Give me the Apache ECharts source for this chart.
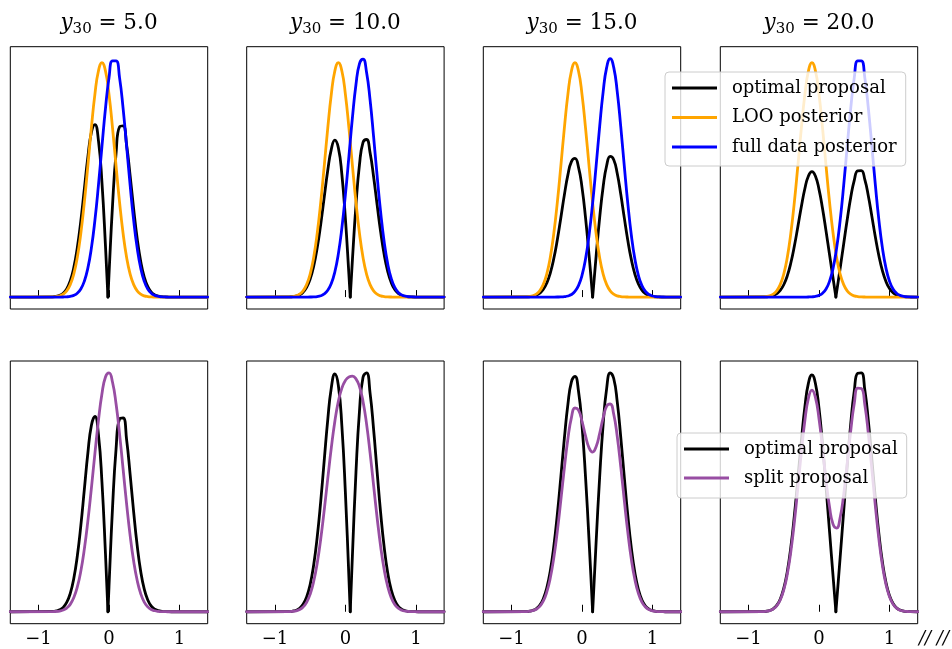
<!DOCTYPE html>
<html>
<head>
<meta charset="utf-8">
<script src="https://cdn.jsdelivr.net/npm/echarts@6/dist/echarts.min.js"></script>
<style>
html, body { margin: 0; padding: 0; background: #ffffff; }
#chart { width: 952px; height: 649px; }
</style>
</head>
<body>
<div id="chart"></div>
<script>
// ---------------- data ----------------
const y30Values = [5.0, 10.0, 15.0, 20.0];
const xTicks = [-1, 0, 1];

const xGrid = [-1.4, -0.8, -0.75, -0.7, -0.65, -0.6, -0.55, -0.5, -0.45, -0.4, -0.35, -0.3, -0.25, -0.2, -0.15, -0.1, -0.05, 0, 0.05, 0.1, 0.15, 0.2, 0.25, 0.3, 0.35, 0.4, 0.45, 0.5, 0.55, 0.6, 0.65, 0.7, 0.75, 0.8, 0.85, 0.9, 0.95, 1.0, 1.05, 1.1, 1.15, 1.2, 1.25, 1.3, 1.4];

// LOO posterior (same in all four panels)
const looPosterior = [0, 0.0018, 0.0047, 0.0116, 0.0268, 0.0573, 0.114, 0.2111, 0.3636, 0.5825, 0.8679, 1.2027, 1.5501, 1.8581, 2.0715, 2.148, 2.0715, 1.8581, 1.5501, 1.2027, 0.8679, 0.5825, 0.3636, 0.2111, 0.114, 0.0573, 0.0268, 0.0116, 0.0047, 0.0018, 0.0006, 0, 0, 0, 0, 0, 0, 0, 0, 0, 0, 0, 0, 0, 0];

// full data posterior, one per panel
const fullPosterior5 = [0, 0, 0.0001, 0.0003, 0.0008, 0.0024, 0.0062, 0.0154, 0.035, 0.0742, 0.1456, 0.2652, 0.4483, 0.703, 1.0227, 1.3804, 1.7286, 2.0083, 2.1646, 2.1646, 2.0083, 1.7286, 1.3804, 1.0227, 0.703, 0.4483, 0.2652, 0.1456, 0.0742, 0.035, 0.0154, 0.0062, 0.0024, 0.0008, 0.0003, 0.0001, 0, 0, 0, 0, 0, 0, 0, 0, 0];
const fullPosterior10 = [0, 0, 0, 0, 0, 0.0001, 0.0002, 0.0006, 0.0018, 0.0049, 0.0123, 0.0287, 0.0619, 0.1239, 0.2299, 0.3959, 0.6326, 0.9378, 1.2897, 1.6457, 1.948, 2.1394, 2.1799, 2.0607, 1.8073, 1.4705, 1.1101, 0.7775, 0.5052, 0.3045, 0.1703, 0.0884, 0.0425, 0.019, 0.0079, 0.003, 0.0011, 0.0004, 0.0001, 0, 0, 0, 0, 0, 0];
const fullPosterior15 = [0, 0, 0, 0, 0, 0, 0, 0, 0, 0.0001, 0.0005, 0.0014, 0.0039, 0.0099, 0.0234, 0.0514, 0.1049, 0.1983, 0.3481, 0.5667, 0.8559, 1.1994, 1.5593, 1.8807, 2.1046, 2.185, 2.1046, 1.8807, 1.5593, 1.1994, 0.8559, 0.5667, 0.3481, 0.1983, 0.1049, 0.0514, 0.0234, 0.0099, 0.0039, 0.0014, 0.0005, 0.0001, 0, 0, 0];
const fullPosterior20 = [0, 0, 0, 0, 0, 0, 0, 0, 0, 0, 0, 0, 0.0001, 0.0003, 0.0008, 0.0024, 0.0062, 0.0154, 0.035, 0.0742, 0.1456, 0.2652, 0.4483, 0.703, 1.0227, 1.3804, 1.7286, 2.0083, 2.1646, 2.1646, 2.0083, 1.7286, 1.3804, 1.0227, 0.703, 0.4483, 0.2652, 0.1456, 0.0742, 0.035, 0.0154, 0.0062, 0.0024, 0.0008, 0];

// optimal proposal, one per panel
const optimal5 = [0, 0.0025, 0.0063, 0.0155, 0.0356, 0.0751, 0.1475, 0.2678, 0.4497, 0.6956, 0.9885, 1.283, 1.5079, 1.5808, 1.4353, 1.0505, 0.4693, 0.2056, 0.841, 1.3164, 1.5607, 1.5685, 1.3915, 1.1107, 0.8061, 0.5351, 0.3263, 0.1834, 0.0951, 0.0454, 0.0203, 0.0085, 0.0033, 0.0011, 0.0004, 0.0001, 0, 0, 0, 0, 0, 0, 0, 0, 0];
const optimal10 = [0, 0.0014, 0.0037, 0.0091, 0.0209, 0.0447, 0.0888, 0.1643, 0.2824, 0.4509, 0.6679, 0.9164, 1.1617, 1.3537, 1.4375, 1.3677, 1.1232, 0.7184, 0.2033, 0.3458, 0.8431, 1.2153, 1.4178, 1.4438, 1.3218, 1.1031, 0.8456, 0.5978, 0.3907, 0.2363, 0.1325, 0.069, 0.0332, 0.0148, 0.0062, 0.0023, 0.0009, 0.0003, 0.0001, 0, 0, 0, 0, 0, 0];
const optimal15 = [0, 0.0011, 0.0028, 0.007, 0.0162, 0.0347, 0.0691, 0.1279, 0.2202, 0.3528, 0.5254, 0.7277, 0.9367, 1.1196, 1.2407, 1.2701, 1.1913, 1.0055, 0.7281, 0.3853, 0.0073, 0.3737, 0.7243, 1.0114, 1.2059, 1.2889, 1.2587, 1.1323, 0.9417, 0.7255, 0.5181, 0.3433, 0.2109, 0.1201, 0.0635, 0.0311, 0.0142, 0.006, 0.0024, 0.0008, 0.0003, 0.0001, 0, 0, 0];
const optimal20 = [0, 0.001, 0.0025, 0.0062, 0.0144, 0.0307, 0.0611, 0.1131, 0.1948, 0.3121, 0.465, 0.6444, 0.8305, 0.9954, 1.1095, 1.1496, 1.1066, 0.9873, 0.8118, 0.6046, 0.387, 0.17, 0.0454, 0.2636, 0.4869, 0.7089, 0.9118, 1.0698, 1.1573, 1.1588, 1.0757, 0.9262, 0.7396, 0.548, 0.3767, 0.2402, 0.1421, 0.078, 0.0398, 0.0188, 0.0083, 0.0033, 0.0013, 0.0004, 0];
// where the optimal proposal touches zero
const optimalZeroAt = [-0.015, 0.0685, 0.151, 0.2395];

// split proposal, one per panel
const split5 = [0, 0.0009, 0.0024, 0.006, 0.0138, 0.0299, 0.0601, 0.1133, 0.1993, 0.3284, 0.5068, 0.734, 0.9992, 1.2806, 1.5471, 1.7642, 1.9001, 1.9332, 1.8574, 1.6837, 1.4381, 1.1556, 0.872, 0.6169, 0.4085, 0.2528, 0.146, 0.0786, 0.0395, 0.0184, 0.008, 0.0031, 0.0012, 0.0004, 0.0002, 0.0001, 0, 0, 0, 0, 0, 0, 0, 0, 0];
const split10 = [0, 0.0009, 0.0024, 0.0058, 0.0134, 0.0287, 0.0571, 0.1059, 0.1827, 0.2937, 0.4401, 0.6157, 0.806, 0.991, 1.1507, 1.272, 1.3521, 1.398, 1.4199, 1.4242, 1.408, 1.361, 1.2718, 1.1359, 0.9607, 0.7639, 0.5685, 0.3946, 0.255, 0.1532, 0.0855, 0.0442, 0.0213, 0.0095, 0.004, 0.0015, 0.0006, 0.0002, 0.0001, 0, 0, 0, 0, 0, 0];
const split15 = [0, 0.0009, 0.0024, 0.0058, 0.0134, 0.0287, 0.057, 0.1056, 0.1818, 0.2913, 0.4342, 0.6021, 0.777, 0.934, 1.0475, 1.0997, 1.0882, 1.0282, 0.9491, 0.8847, 0.8619, 0.891, 0.9615, 1.0459, 1.1093, 1.1212, 1.0657, 0.9462, 0.782, 0.6006, 0.4283, 0.2834, 0.1741, 0.0992, 0.0525, 0.0257, 0.0117, 0.005, 0.002, 0.0007, 0.0003, 0.0001, 0, 0, 0];
const split20 = [0, 0.0009, 0.0024, 0.0058, 0.0134, 0.0287, 0.057, 0.1056, 0.1818, 0.2913, 0.434, 0.6014, 0.7751, 0.9292, 1.0362, 1.0752, 1.0389, 0.9368, 0.7926, 0.6385, 0.5068, 0.4239, 0.406, 0.4571, 0.5684, 0.7189, 0.8777, 1.01, 1.0847, 1.0832, 1.0045, 0.8643, 0.6902, 0.5114, 0.3515, 0.2242, 0.1326, 0.0728, 0.0371, 0.0175, 0.0077, 0.0031, 0.0012, 0.0004, 0];

const fullPosteriors = [fullPosterior5, fullPosterior10, fullPosterior15, fullPosterior20];
const optimals = [optimal5, optimal10, optimal15, optimal20];
const splits = [split5, split10, split15, split20];

// ---------------- layout / style ----------------
const SERIF = "'DejaVu Serif', 'Liberation Serif', serif";
const COLORS = { optimal: '#000000', loo: '#FFA500', full: '#0000FF', split: '#984EA3' };
const panelLefts = [10.3, 246.7, 483.3, 720.3];
const panelW = 197.4;
const rows = [{ top: 46.7, height: 262.3 }, { top: 361, height: 262.7 }];
const LW = 2.8;

function pairs(vals) { return xGrid.map((x, i) => [x, vals[i]]); }
// split the optimal proposal at its zero so the cusp stays sharp
function leftOfZero(vals, z) {
  const p = pairs(vals).filter(d => d[0] < z); p.push([z, 0]); return p;
}
function rightOfZero(vals, z) {
  return [[z, 0]].concat(pairs(vals).filter(d => d[0] > z));
}
function maxOf(arrs) { let m = 0; arrs.forEach(a => a.forEach(v => { if (v > m) m = v; })); return m; }

const grids = [], xAxes = [], yAxes = [], series = [];
const topMax = maxOf([looPosterior].concat(fullPosteriors, optimals));

for (let r = 0; r < 2; r++) {
  for (let c = 0; c < 4; c++) {
    const gi = r * 4 + c;
    grids.push({
      left: panelLefts[c], top: rows[r].top, width: panelW, height: rows[r].height,
      show: true, borderColor: '#000', borderWidth: 1, backgroundColor: 'transparent'
    });
    xAxes.push({
      type: 'value', gridIndex: gi, min: -1.4, max: 1.4,
      axisLine: { show: false },
      axisTick: { show: true, inside: true, length: 7, customValues: xTicks, lineStyle: { color: '#000', width: 1 } },
      axisLabel: {
        show: r === 1, customValues: xTicks, margin: 7,
        fontFamily: SERIF, fontSize: 18, color: '#000',
        formatter: v => (v < 0 ? '\u2212' : '') + Math.abs(v)
      },
      splitLine: { show: false }
    });
    const M = r === 0 ? topMax : maxOf([optimals[c], splits[c]]);
    yAxes.push({ type: 'value', gridIndex: gi, min: -0.05 * M, max: 1.05 * M, show: false, splitLine: { show: false } });

    const mk = (name, data, color) => ({
      type: 'line', name, xAxisIndex: gi, yAxisIndex: gi, data,
      symbol: 'none', showSymbol: false, silent: true, animation: false, smooth: true,
      color, itemStyle: { color },
      lineStyle: { color, width: LW, cap: 'round', join: 'round' }
    });
    series.push(mk('optimal proposal', leftOfZero(optimals[c], optimalZeroAt[c]), COLORS.optimal));
    series.push(mk('optimal proposal', rightOfZero(optimals[c], optimalZeroAt[c]), COLORS.optimal));
    if (r === 0) {
      series.push(mk('LOO posterior', pairs(looPosterior), COLORS.loo));
      series.push(mk('full data posterior', pairs(fullPosteriors[c]), COLORS.full));
    } else {
      series.push(mk('split proposal', pairs(splits[c]), COLORS.split));
    }
  }
}

const legendBase = {
  orient: 'vertical', icon: 'rect', itemWidth: 45, itemHeight: 3,
  backgroundColor: 'rgba(255,255,255,0.8)', borderColor: '#cccccc', borderWidth: 1, borderRadius: 4,
  textStyle: { fontFamily: SERIF, fontSize: 18, color: '#000', lineHeight: 20, padding: [0, 0, 0, 10] },
  selectedMode: false, z: 10
};

const graphics = y30Values.map((v, c) => ({
  type: 'text',
  x: panelLefts[c] + panelW / 2, y: 23,
  style: {
    text: '{v|y}{s|30}{t| = ' + v.toFixed(1) + '}',
    align: 'center', verticalAlign: 'middle', fill: '#000',
    rich: {
      v: { fontFamily: SERIF, fontStyle: 'italic', fontSize: 21.5, lineHeight: 28 },
      s: { fontFamily: SERIF, fontSize: 15, lineHeight: 17, verticalAlign: 'bottom' },
      t: { fontFamily: SERIF, fontSize: 21.5, lineHeight: 28 }
    }
  }
}));
graphics.push({
  type: 'text', x: 919, y: 639,
  style: { text: '// //', fontFamily: SERIF, fontSize: 18, fontStyle: 'italic', fill: '#000', verticalAlign: 'middle' }
});

const chart = echarts.init(document.getElementById('chart'), null, { renderer: 'canvas' });
chart.setOption({
  backgroundColor: '#ffffff',
  animation: false,
  grid: grids,
  xAxis: xAxes,
  yAxis: yAxes,
  legend: [
    Object.assign({}, legendBase, { left: 665, top: 72, padding: [6, 9, 9, 7], itemGap: 9.5,
      data: ['optimal proposal', 'LOO posterior', 'full data posterior'] }),
    Object.assign({}, legendBase, { left: 677, top: 433, padding: [6, 9, 10, 7], itemGap: 9,
      data: ['optimal proposal', 'split proposal'] })
  ],
  graphic: graphics,
  series
});
</script>
</body>
</html>
